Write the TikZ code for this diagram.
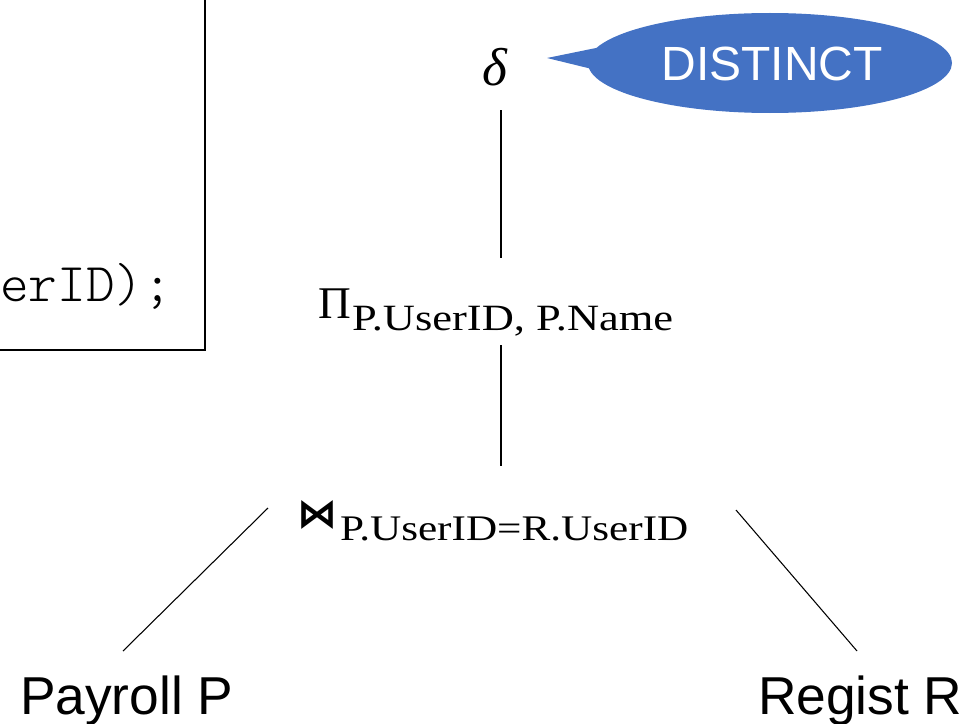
\documentclass[tikz,border=0pt]{standalone}
\usepackage{fontspec}
\setmainfont{Liberation Serif}
\newfontfamily\labelfont{Liberation Sans}
\newfontfamily\subfont[FakeStretch=1.2]{Liberation Serif}
\newfontfamily\symfont{DejaVu Sans}
\newfontfamily\codefont{Latin Modern Mono Light}
\definecolor{calloutblue}{HTML}{4472C4}

\begin{document}
\begin{tikzpicture}[x=0.75pt, y=-0.75pt,
  every node/.style={inner sep=0pt, outer sep=0pt},
  edge/.style={draw=black, line width=0.8pt},
  relation/.style={font=\labelfont\fontsize{40}{48}\selectfont, anchor=base west},
  opsub/.style={font=\subfont\fontsize{27}{32}\selectfont, anchor=base west},
  codebox/.style={draw=black, line width=1.5pt}]

  % canvas
  \useasboundingbox (0,0) rectangle (967,724);
  \clip (0,0) rectangle (967,724);

  % SQL query box (partly outside the canvas)
  \draw[codebox] (-20,-20) rectangle (205,350);
  \node[font=\codefont\fontsize{41}{48}\selectfont, anchor=base west] (code) at (0,301) {erID);};

  % duplicate elimination with its callout
  \node[anchor=base, font=\itshape\fontsize{40}{48}\selectfont] (delta) at (495,85) {δ};
  \fill[calloutblue] (770,63) ellipse [x radius=182, y radius=50];
  \fill[calloutblue] (596,48) -- (547,58) -- (596,70) -- cycle;
  \node[font=\labelfont\fontsize{36}{42}\selectfont, text=white, anchor=base] (distinct) at (772,80) {DISTINCT};

  % projection
  \node[anchor=base west, font=\fontsize{34}{40}\selectfont] (pi) at (318,318) {Π};
  \node[opsub, font=\subfont\fontsize{27.8}{32}\selectfont] (pisub) at (352,330) {P.UserID, P.Name};

  % join
  \node[anchor=base west, font=\symfont\bfseries\fontsize{30}{36}\selectfont] (join) at (297,527) {⋈};
  \node[opsub] (joinsub) at (340,540) {P.UserID=R.UserID};

  % base relations
  \node[relation] (payroll) at (20,714) {Payroll P};
  \node[relation] (regist) at (758,714) {Regist R};

  % connector end points
  \coordinate (d1) at (501,110);
  \coordinate (d2) at (501,258);
  \coordinate (p1) at (501,345);
  \coordinate (p2) at (501,466);
  \coordinate (jl) at (268,508);
  \coordinate (pl) at (123,651);
  \coordinate (jr) at (736,510);
  \coordinate (rr) at (857,651);

  \draw[edge] (d1) -- (d2);
  \draw[edge] (p1) -- (p2);
  \draw[edge] (jl) -- (pl);
  \draw[edge] (jr) -- (rr);
\end{tikzpicture}
\end{document}
